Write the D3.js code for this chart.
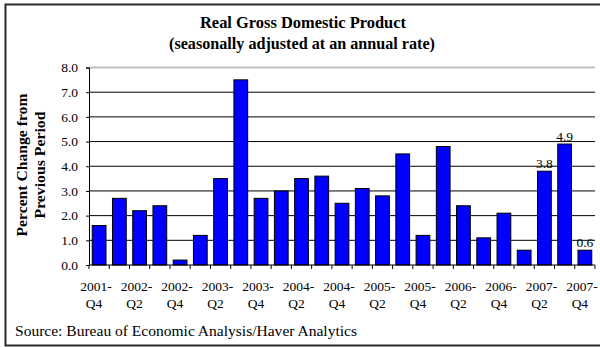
<!DOCTYPE html>
<html>
<head>
<meta charset="utf-8">
<script src="https://cdn.jsdelivr.net/npm/d3@7"></script>
<style>
  html, body { margin: 0; padding: 0; background: #fff; }
  svg { display: block; }
  text { font-family: "Liberation Serif", "Times New Roman", serif; fill: #000; }
</style>
</head>
<body>
<svg id="chart" width="600" height="347"></svg>
<script>
// Real GDP, percent change from previous period (SAAR), 2001-Q4 .. 2007-Q4
const quarters = [
  "2001-Q4",
  "2002-Q1", "2002-Q2", "2002-Q3", "2002-Q4",
  "2003-Q1", "2003-Q2", "2003-Q3", "2003-Q4",
  "2004-Q1", "2004-Q2", "2004-Q3", "2004-Q4",
  "2005-Q1", "2005-Q2", "2005-Q3", "2005-Q4",
  "2006-Q1", "2006-Q2", "2006-Q3", "2006-Q4",
  "2007-Q1", "2007-Q2", "2007-Q3", "2007-Q4"
];
const growth = [
  1.6,
  2.7, 2.2, 2.4, 0.2,
  1.2, 3.5, 7.5, 2.7,
  3.0, 3.5, 3.6, 2.5,
  3.1, 2.8, 4.5, 1.2,
  4.8, 2.4, 1.1, 2.1,
  0.6, 3.8, 4.9, 0.6
];
// quarters whose values are printed above the bar
const labelled = ["2007-Q2", "2007-Q3", "2007-Q4"];
const yTicks = [0, 1, 2, 3, 4, 5, 6, 7, 8];

const svg = d3.select("#chart");
const plot = { left: 89, right: 595, top: 67.5, bottom: 265 };

// outer frame (runs off the right edge)
svg.append("rect")
  .attr("x", 5.5).attr("y", 4.5)
  .attr("width", 620).attr("height", 341)
  .attr("fill", "none").attr("stroke", "#2a2a2a").attr("stroke-width", 2);

// helper: text stretched to a fixed width
function fitted(sel, len) {
  return sel.attr("textLength", len).attr("lengthAdjust", "spacingAndGlyphs");
}

// titles
fitted(svg.append("text").attr("x", 303).attr("y", 28)
  .attr("text-anchor", "middle").attr("font-size", 16).attr("font-weight", "bold")
  .text("Real Gross Domestic Product"), 206);
fitted(svg.append("text").attr("x", 302).attr("y", 49)
  .attr("text-anchor", "middle").attr("font-size", 16).attr("font-weight", "bold")
  .text("(seasonally adjusted at an annual rate)"), 266);

const x = d3.scaleBand().domain(quarters)
  .range([plot.left, plot.right]).paddingInner(0.32).paddingOuter(0.16);
const y = d3.scaleLinear().domain([0, 8]).range([plot.bottom, plot.top]);

// horizontal gridlines
svg.append("g").selectAll("line").data(yTicks.filter(d => d > 0)).join("line")
  .attr("x1", plot.left).attr("x2", plot.right)
  .attr("y1", d => y(d)).attr("y2", d => y(d))
  .attr("stroke", d => d === 8 ? "#c0c0c0" : "#000")
  .attr("stroke-width", d => d === 8 ? 2 : 1);

// bars
svg.append("g").selectAll("rect").data(quarters).join("rect")
  .attr("x", d => x(d))
  .attr("y", (d, i) => y(growth[i]))
  .attr("width", x.bandwidth())
  .attr("height", (d, i) => y(0) - y(growth[i]))
  .attr("fill", "#0000ff")
  .attr("stroke", "#000").attr("stroke-width", 1);

// y axis
const yAxis = d3.axisLeft(y).tickValues(yTicks)
  .tickFormat(d3.format(".1f")).tickSize(3).tickPadding(8);
const gy = svg.append("g").attr("transform", `translate(${plot.left},0)`).call(yAxis);
gy.select(".domain").attr("stroke", "#000");
gy.selectAll("line").attr("stroke", "#000");
gy.selectAll("text").attr("font-size", 13.5).attr("font-family", "Liberation Serif").attr("fill", "#000");

// x axis: baseline plus ticks between categories
const step = x.step();
const boundaries = d3.range(quarters.length + 1).map(i => plot.left + i * step);
svg.append("line")
  .attr("x1", plot.left).attr("x2", plot.right)
  .attr("y1", plot.bottom).attr("y2", plot.bottom).attr("stroke", "#000");
svg.append("g").selectAll("line").data(boundaries).join("line")
  .attr("x1", d => d).attr("x2", d => d)
  .attr("y1", plot.bottom).attr("y2", plot.bottom + 4)
  .attr("stroke", "#000");

// category labels on every other quarter, split over two lines
const xl = svg.append("g").selectAll("text")
  .data(quarters.filter((d, i) => i % 2 === 0)).join("text")
  .attr("text-anchor", "middle").attr("font-size", 13.5);
xl.append("tspan").attr("x", d => x(d) + x.bandwidth() / 2 - 3).attr("y", 291)
  .text(d => d.split("-")[0] + "-");
xl.append("tspan").attr("x", d => x(d) + x.bandwidth() / 2 - 5).attr("y", 308)
  .text(d => d.split("-")[1]);

// value labels
svg.append("g").selectAll("text").data(labelled).join("text")
  .attr("x", d => x(d) + x.bandwidth() / 2)
  .attr("y", d => y(growth[quarters.indexOf(d)]) - 3)
  .attr("text-anchor", "middle").attr("font-size", 13.5).attr("fill", "#333")
  .text(d => d3.format(".1f")(growth[quarters.indexOf(d)]));

// y axis title
const yt = svg.append("g").attr("transform", "translate(0,165) rotate(-90)");
fitted(yt.append("text").attr("x", 0).attr("y", 27)
  .attr("text-anchor", "middle").attr("font-size", 15).attr("font-weight", "bold")
  .text("Percent Change from"), 143);
fitted(yt.append("text").attr("x", 0).attr("y", 45)
  .attr("text-anchor", "middle").attr("font-size", 15).attr("font-weight", "bold")
  .text("Previous Period"), 107);

// source note
fitted(svg.append("text").attr("x", 15).attr("y", 336).attr("font-size", 14)
  .text("Source: Bureau of Economic Analysis/Haver Analytics"), 342);
</script>
</body>
</html>
